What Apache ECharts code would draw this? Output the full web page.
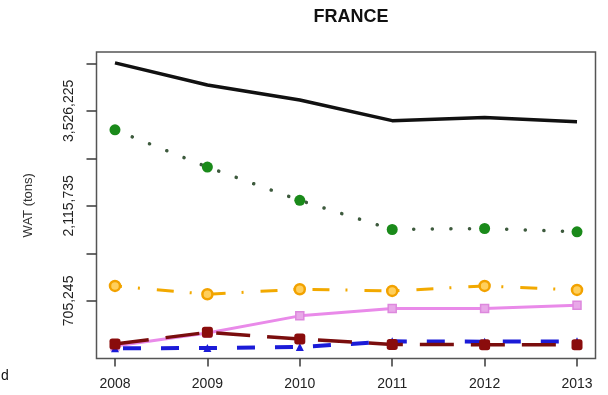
<!DOCTYPE html>
<html>
<head>
<meta charset="utf-8">
<script src="https://cdn.jsdelivr.net/npm/echarts@6/dist/echarts.min.js"></script>
<style>
  html, body { margin: 0; padding: 0; background: #fff; }
  #chart { width: 608px; height: 395px; }
</style>
</head>
<body>
<div id="chart"></div>
<script>
// Years on the horizontal axis
const years = [2008, 2009, 2010, 2011, 2012, 2013];

// Yearly values (tons), one array per line
const lineBlack  = [4238900, 3909000, 3687000, 3381000, 3426000, 3366000];
const lineGreen  = [3244000, 2692000, 2198000, 1765000, 1780000, 1731000];
const lineOrange = [927000, 804000, 878000, 853000, 927000, 868000];
const linePink   = [35000, 228000, 483000, 593000, 593000, 642000];
const lineBlue   = [2000, 5000, 20000, 105000, 100000, 105000];
const lineRed    = [65000, 238000, 139000, 58000, 55000, 55000];

// Tick positions and labelled ticks on the value axis
const yTicks  = [705245, 1410490, 2115735, 2820980, 3526225, 4231470];
const yLabels = [705245, 2115735, 3526225];

const pairs = arr => years.map((y, i) => [y, arr[i]]);

const chart = echarts.init(document.getElementById('chart'), null, { renderer: 'canvas' });

const axisInk = '#3a3a3a';

chart.setOption({
  animation: false,
  backgroundColor: '#ffffff',
  title: {
    text: 'FRANCE',
    left: 346,
    top: 3,
    textAlign: 'center',
    textStyle: { fontFamily: 'Liberation Sans', fontWeight: 'bold', fontSize: 18, color: '#111' }
  },
  grid: {
    left: 96.5, right: 12.5, top: 52, bottom: 36.5,
    show: true, borderColor: '#555', borderWidth: 1.5, backgroundColor: 'transparent'
  },
  xAxis: {
    type: 'value',
    min: 2007.8,
    max: 2013.2,
    splitLine: { show: false },
    axisLine: { show: false, onZero: false },
    axisTick: { show: true, length: 8, customValues: years, lineStyle: { color: axisInk, width: 1.5 } },
    axisLabel: {
      customValues: years,
      formatter: v => String(v),
      margin: 19,
      fontFamily: 'Liberation Sans', fontSize: 14, color: '#222'
    }
  },
  yAxis: {
    type: 'value',
    min: -150000,
    max: 4400000,
    name: 'WAT (tons)',
    nameLocation: 'middle',
    nameGap: 62,
    nameTextStyle: { fontFamily: 'Liberation Sans', fontSize: 13, color: '#333' },
    splitLine: { show: false },
    axisLine: { show: false, onZero: false },
    axisTick: { show: true, length: 10, customValues: yTicks, lineStyle: { color: axisInk, width: 1.5 } },
    axisLabel: {
      customValues: yLabels,
      rotate: 90,
      margin: 20,
      formatter: v => Number(v).toLocaleString('en-US'),
      fontFamily: 'Liberation Sans', fontSize: 14, color: '#222'
    }
  },
  graphic: [{
    type: 'text', left: 1, top: 369,
    style: { text: 'd', font: '14px "Liberation Sans"', fill: '#111' }
  }],
  series: [
    {
      name: 'A', type: 'line', data: pairs(lineBlack),
      showSymbol: false, symbol: 'none',
      lineStyle: { color: '#111', width: 3.5 }
    },
    {
      name: 'B', type: 'line', data: pairs(lineGreen),
      symbol: 'circle', symbolSize: 11,
      itemStyle: { color: '#1a8a1a' },
      lineStyle: { color: '#3d5a3d', width: 3.5, type: [0.1, 18.5], cap: 'round' }
    },
    {
      name: 'C', type: 'line', data: pairs(lineOrange),
      symbol: 'circle', symbolSize: 10,
      itemStyle: { color: '#ffcf5c', borderColor: '#f2a200', borderWidth: 2.5 },
      lineStyle: { color: '#f2a900', width: 3, type: [17, 16, 2, 17], dashOffset: 10 }
    },
    {
      name: 'D', type: 'line', data: pairs(linePink),
      symbol: 'rect', symbolSize: 8,
      itemStyle: { color: '#e8a8e8', borderColor: '#dd88dd', borderWidth: 1.5 },
      lineStyle: { color: '#e98ae9', width: 3 }
    },
    {
      name: 'E', type: 'line', data: pairs(lineBlue),
      symbol: 'triangle', symbolSize: 8,
      itemStyle: { color: '#1b1bd8' },
      lineStyle: { color: '#1b1bd8', width: 4, type: [18, 20], dashOffset: -8 }
    },
    {
      name: 'F', type: 'line', data: pairs(lineRed),
      symbol: 'roundRect', symbolSize: 11,
      itemStyle: { color: '#8a0c0c' },
      lineStyle: { color: '#7a0d0d', width: 3.5, type: [34, 17] }
    }
  ]
});
</script>
</body>
</html>
